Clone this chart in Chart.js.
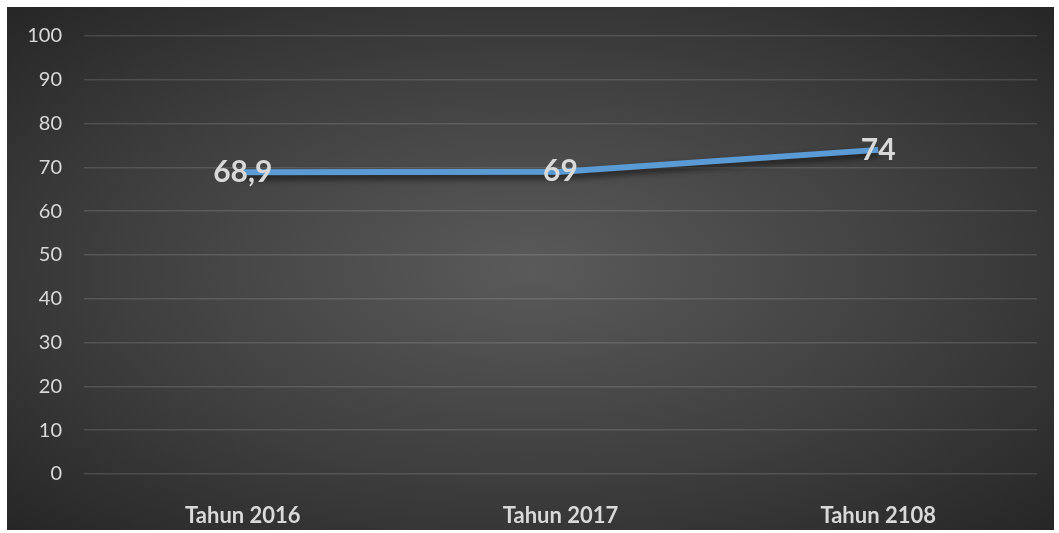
<!DOCTYPE html>
<html>
<head>
<meta charset="utf-8">
<script src="https://cdn.jsdelivr.net/npm/chart.js@4.4.0/dist/chart.umd.min.js"></script>
<style>
  html, body { margin: 0; padding: 0; background: #fff; }
  #wrap {
    position: absolute; left: 7px; top: 7px; width: 1047px; height: 523px;
    background: radial-gradient(ellipse at 50% 50%, #5a5a5a 0%, #3f3f3f 55%, #262626 100%);
  }
</style>
</head>
<body>
<div id="wrap"><canvas id="myChart"></canvas></div>
<script>
const categories = ['Tahun 2016', 'Tahun 2017', 'Tahun 2108'];
const values = [68.9, 69, 74];
const valueLabels = ['68,9', '69', '74'];
const yTicks = [0, 10, 20, 30, 40, 50, 60, 70, 80, 90, 100];

const textColor = '#d9d9d9';
const fontFamily = 'Lato, "Open Sans", sans-serif';

// shadow under the line
const lineShadow = {
  id: 'lineShadow',
  beforeDatasetDraw(chart) {
    const ctx = chart.ctx;
    ctx.save();
    ctx.shadowColor = 'rgba(0,0,0,0.6)';
    ctx.shadowBlur = 6;
    ctx.shadowOffsetY = 4;
  },
  afterDatasetDraw(chart) {
    chart.ctx.restore();
  }
};

// value labels centred on the points
const valueText = {
  id: 'valueText',
  afterDatasetsDraw(chart) {
    const ctx = chart.ctx;
    const meta = chart.getDatasetMeta(0);
    ctx.save();
    ctx.font = 'bold 30px ' + fontFamily;
    ctx.fillStyle = textColor;
    ctx.textAlign = 'center';
    ctx.textBaseline = 'middle';
    meta.data.forEach((pt, i) => {
      ctx.fillText(valueLabels[i], pt.x, pt.y);
    });
    ctx.restore();
  }
};

const canvas = document.getElementById('myChart');
const ctx = canvas.getContext('2d');
const myChart = new Chart(ctx, {
  type: 'line',
  data: {
    labels: categories,
    datasets: [{
      data: values,
      borderColor: '#5b9bd5',
      borderWidth: 6,
      pointRadius: 0,
      tension: 0,
      fill: false
    }]
  },
  options: {
    responsive: true,
    maintainAspectRatio: false,
    animation: false,
    layout: { padding: { top: 29, right: 17, left: 0, bottom: 0 } },
    plugins: {
      legend: { display: false },
      tooltip: { enabled: false }
    },
    scales: {
      x: {
        offset: true,
        grid: { display: false },
        border: { display: false },
        ticks: {
          color: textColor,
          padding: 21,
          font: { family: fontFamily, size: 22, weight: 'bold' }
        },
        afterFit(scale) {
          scale.height = 56;
          scale.paddingLeft = 0;
          scale.paddingRight = 0;
        }
      },
      y: {
        min: 0,
        max: 100,
        afterBuildTicks(scale) { scale.ticks = yTicks.map(v => ({ value: v })); },
        grid: { color: 'rgba(255,255,255,0.13)', lineWidth: 1.5, drawTicks: false },
        border: { display: false },
        ticks: {
          color: textColor,
          padding: 22,
          font: { family: fontFamily, size: 20 }
        },
        afterFit(scale) {
          scale.width = 77;
          scale.paddingTop = 0;
          scale.paddingBottom = 0;
        }
      }
    }
  },
  plugins: [lineShadow, valueText]
});
</script>
</body>
</html>
